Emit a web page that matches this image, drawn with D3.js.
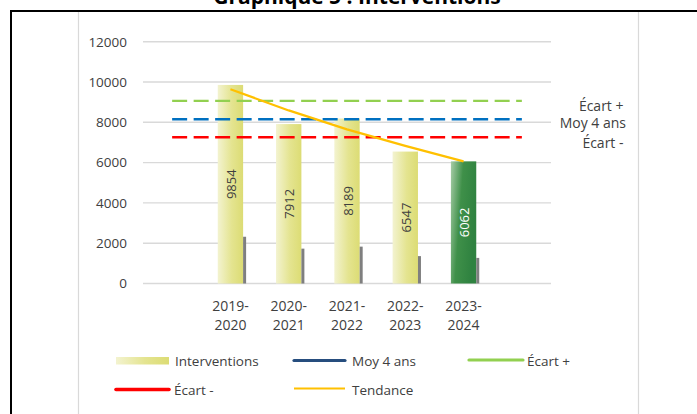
<!DOCTYPE html>
<html><head><meta charset="utf-8">
<script src="https://cdn.jsdelivr.net/npm/d3@7"></script>
<style>
html,body{margin:0;padding:0;background:#fff;}
svg{display:block;font-family:"Open Sans",sans-serif;}
</style></head>
<body><svg id="c" width="697" height="414"></svg>
<script>
// ---- data ----
const categories = ["", "2019-2020", "2020-2021", "2021-2022", "2022-2023", "2023-2024", " "];
const interventions = [null, 9854, 7912, 8189, 6547, 6062, null];
const secondSeries = [null, 2320, 1730, 1830, 1360, 1270, null];
const moy4ans = [8150, 8150, 8150, 8150, 8150, 8150, 8150];
const ecartPlus = [9060, 9060, 9060, 9060, 9060, 9060, 9060];
const ecartMoins = [7255, 7255, 7255, 7255, 7255, 7255, 7255];
const tendance = [null, 9640, 8590, 7650, 6830, 6060, null];
const yTicks = [0, 2000, 4000, 6000, 8000, 10000, 12000];
const title = "Graphique 5 : Interventions";
const legendItems = ["Interventions", "Moy 4 ans", "Écart +", "Écart -", "Tendance"];
const sideLabels = ["Écart +", "Moy 4 ans", "Écart -"];

const svg = d3.select("#c");
const txt = "#404040";

// gradients
const defs = svg.append("defs");
const g1 = defs.append("linearGradient").attr("id","gy").attr("x1",0).attr("y1",0).attr("x2",1).attr("y2",0);
g1.append("stop").attr("offset","0%").attr("stop-color","#f3f3d0");
g1.append("stop").attr("offset","55%").attr("stop-color","#e4e490");
g1.append("stop").attr("offset","100%").attr("stop-color","#dcdc74");
const g2 = defs.append("linearGradient").attr("id","gg").attr("x1",0).attr("y1",0).attr("x2",1).attr("y2",0.35);
g2.append("stop").attr("offset","0%").attr("stop-color","#a6cca6");
g2.append("stop").attr("offset","45%").attr("stop-color","#3f9049");
g2.append("stop").attr("offset","100%").attr("stop-color","#2f8240");

// frame
svg.append("text").attr("x",357).attr("y",3.5).attr("text-anchor","middle")
  .attr("font-weight","bold").attr("font-size",21).attr("fill","#000").text(title);
svg.append("line").attr("x1",10).attr("x2",697).attr("y1",11).attr("y2",11).attr("stroke","#000").attr("stroke-width",2);
svg.append("line").attr("x1",11).attr("x2",11).attr("y1",10).attr("y2",414).attr("stroke","#000").attr("stroke-width",2);
[78, 638].forEach(x=>svg.append("line").attr("x1",x+0.5).attr("x2",x+0.5).attr("y1",12).attr("y2",414).attr("stroke","#d9d9d9").attr("stroke-width",1.2));

// scales
const x = d3.scaleBand().domain(categories).range([143, 551]).padding(0);
const step = x.bandwidth();
const cx = c => x(c) + step/2;
const y = d3.scaleLinear().domain([0, 12000]).range([283.5, 41.7]);

// grid
svg.append("g").selectAll("line").data(yTicks).join("line")
  .attr("x1",143).attr("x2",551).attr("y1",d=>y(d)).attr("y2",d=>y(d))
  .attr("stroke","#d9d9d9").attr("stroke-width",d=>d===0?1.6:1.4);

// y axis labels
const yAxis = d3.axisLeft(y).tickValues(yTicks).tickSize(0).tickPadding(0).tickFormat(d3.format("d"));
const ya = svg.append("g").attr("transform","translate(127,0)").call(yAxis);
ya.select(".domain").remove();
ya.selectAll("text").attr("font-size",13.5).attr("fill",txt).attr("font-family","Open Sans");

// x labels (two lines)
const xl = svg.append("g").selectAll("text").data(categories.filter(c=>c.trim()!=="")).join("text")
  .attr("text-anchor","middle").attr("font-size",14).attr("fill",txt);
xl.append("tspan").attr("x",d=>cx(d)).attr("y",310.5).text(d=>d.split("-")[0]+"-");
xl.append("tspan").attr("x",d=>cx(d)).attr("y",330).text(d=>d.split("-")[1]);

// bars
const bw = step*0.435;
const barData = categories.map((c,i)=>({c, v:interventions[i], v2:secondSeries[i], i})).filter(d=>d.v!=null);
svg.append("g").selectAll("rect").data(barData).join("rect")
  .attr("x",d=>cx(d.c)-bw/2).attr("width",bw)
  .attr("y",d=>y(d.v)).attr("height",d=>y(0)-y(d.v))
  .attr("fill",d=>d.i===5?"url(#gg)":"url(#gy)");
svg.append("g").selectAll("rect").data(barData).join("rect")
  .attr("x",d=>cx(d.c)+bw/2).attr("width",3)
  .attr("y",d=>y(d.v2)).attr("height",d=>y(0)-y(d.v2))
  .attr("fill","#7f7f7f");

// dashed lines
const line = d3.line().defined(d=>d.v!=null).x(d=>cx(d.c)).y(d=>y(d.v));
const mk = arr => categories.map((c,i)=>({c, v:arr[i]}));
[[ecartPlus,"#92d050",2.2],[moy4ans,"#0070c0",2.6],[ecartMoins,"#ff0000",2.4]].forEach(([arr,col,w])=>{
  svg.append("path").attr("d",line(mk(arr))).attr("fill","none").attr("stroke",col)
    .attr("stroke-width",w).attr("stroke-dasharray","15,6.5");
});

// trend line
svg.append("path").attr("d",line(mk(tendance))).attr("fill","none").attr("stroke","#ffc000").attr("stroke-width",2.2);

// value labels
svg.append("g").selectAll("text").data(barData).join("text")
  .attr("transform",d=>`translate(${cx(d.c)+1},${y(d.v/2)}) rotate(-90)`)
  .attr("text-anchor","middle").attr("dy","0.35em").attr("font-size",13)
  .attr("fill",d=>d.i===5?"#fff":txt).text(d=>d.v);

// side labels
const sideVals = [ecartPlus[6], moy4ans[6], ecartMoins[6]];
svg.append("g").selectAll("text").data(sideLabels).join("text")
  .attr("x",(d,i)=>i===1?626:623.5).attr("y",(d,i)=>y(sideVals[i])+[10,9,11][i])
  .attr("text-anchor","end").attr("font-size",14).attr("fill",txt).text(d=>d);

// legend
const lg = svg.append("g").attr("font-size",13.5).attr("fill",txt);
lg.append("rect").attr("x",116).attr("y",357).attr("width",53).attr("height",7.5).attr("fill","url(#gy)");
lg.append("text").attr("x",175).attr("y",366).text(legendItems[0]);
lg.append("line").attr("x1",294).attr("x2",345).attr("y1",360.5).attr("y2",360.5).attr("stroke","#264d7e").attr("stroke-width",3.2).attr("stroke-linecap","round");
lg.append("text").attr("x",352).attr("y",366).text(legendItems[1]);
lg.append("line").attr("x1",469).attr("x2",523).attr("y1",360).attr("y2",360).attr("stroke","#92d050").attr("stroke-width",3.2).attr("stroke-linecap","round");
lg.append("text").attr("x",527).attr("y",366).text(legendItems[2]);
lg.append("line").attr("x1",116).attr("x2",169).attr("y1",389.5).attr("y2",389.5).attr("stroke","#ff0000").attr("stroke-width",3.6).attr("stroke-linecap","round");
lg.append("text").attr("x",174).attr("y",394.5).text(legendItems[3]);
lg.append("line").attr("x1",294).attr("x2",345).attr("y1",388.5).attr("y2",388.5).attr("stroke","#ffc000").attr("stroke-width",2.2);
lg.append("text").attr("x",352).attr("y",394.5).text(legendItems[4]);
</script></body></html>
